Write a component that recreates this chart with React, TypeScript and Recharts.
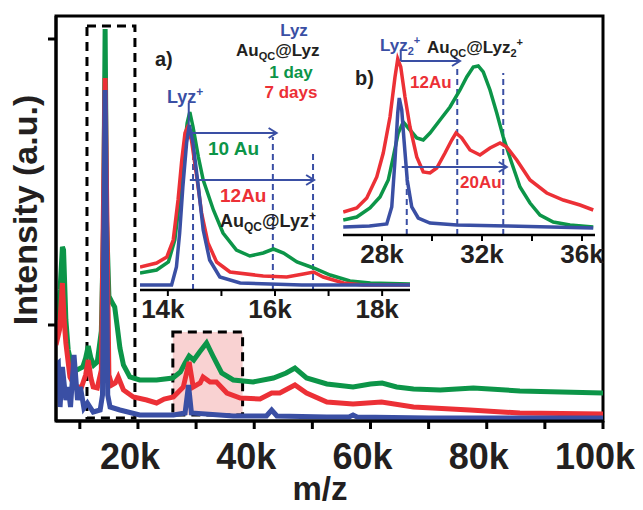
import React from "react";
import { LineChart, Line, XAxis, YAxis, ReferenceArea, ReferenceLine } from "recharts";

const GREEN = "#0c9548";
const RED = "#ec3036";
const BLUE = "#3a4fa4";
const INK = "#231f20";
const FONT = '"Liberation Sans", Arial, sans-serif';

// main spectrum: [m/z in k, intensity a.u.]
const mainTicks = [10, 20, 30, 40, 50, 60, 70, 80, 90, 100];
const mainGreen = [
  [5.9, 101], [6.6, 131], [7.0, 174], [7.2, 171], [7.6, 101], [8.0, 71], [8.6, 56], [9.5, 51],
  [10.5, 54], [11.0, 63], [11.45, 75], [11.9, 63], [12.4, 56], [13.0, 59], [13.7, 90], [14.1, 200],
  [14.35, 392], [14.6, 200], [15.0, 125], [15.6, 118], [16.0, 114], [16.4, 96], [16.9, 73],
  [17.5, 56], [18.6, 44], [20.3, 41], [23.2, 41], [26.0, 43], [27.3, 49], [28.1, 58], [28.8, 65],
  [29.6, 61], [30.6, 69], [31.8, 78], [32.9, 65], [34.4, 48], [36.4, 41], [39.8, 39], [43.3, 43],
  [45.5, 48], [47.0, 53], [49.0, 43], [52.5, 37], [57.0, 34], [60.0, 37], [62.0, 38], [64.5, 34],
  [67.4, 32], [72.0, 31], [77.7, 33], [85.7, 30], [100, 28],
];
const mainRed = [
  [5.9, 76], [6.5, 91], [7.0, 138], [7.3, 101], [7.6, 78], [8.3, 44], [9.2, 34], [10.3, 34],
  [11.0, 46], [11.45, 61], [11.9, 43], [12.3, 34], [13.0, 33], [13.7, 51], [14.35, 343], [15.0, 46],
  [15.5, 36], [16.1, 38], [16.6, 44], [17.5, 31], [19.2, 24], [21.5, 21], [23.2, 18], [24.5, 22],
  [26.1, 24], [27.8, 34], [28.8, 59], [29.5, 34], [30.7, 38], [31.2, 44], [32.4, 39], [33.5, 39],
  [35.3, 28], [37.6, 23], [41.0, 22], [43.0, 28], [44.4, 28], [47.0, 36], [49.0, 28], [52.5, 19],
  [57.0, 17], [61.9, 19], [67.4, 14], [77.1, 11], [85.7, 8], [100, 7],
];
const mainBlue = [
  [5.9, 56], [6.3, 58], [6.6, 14], [7.0, 54], [7.6, 21], [8.0, 34], [8.4, 14], [9.0, 66],
  [9.6, 21], [10.1, 34], [10.7, 13], [11.3, 18], [12.3, 9], [13.5, 11], [13.9, 26], [14.35, 331],
  [14.8, 26], [15.2, 14], [16.9, 11], [20.3, 6], [26.1, 6], [28.1, 8], [28.7, 36], [29.2, 8],
  [36.4, 5], [42.1, 5], [43.0, 11], [43.9, 5], [52.5, 4], [56.3, 4], [57.0, 6], [57.7, 4],
  [70, 3], [100, 3],
];

// inset a: Lyz+ region
const insetATicks = [14, 15, 16, 17, 18];
const insetABlue = [
  [13.48, 5], [14.07, 5], [14.16, 23], [14.22, 57], [14.28, 103], [14.35, 147], [14.4, 165],
  [14.47, 147], [14.57, 103], [14.66, 60], [14.78, 30], [14.97, 13], [15.35, 7], [16.5, 5], [18.52, 5],
];
const insetARed = [
  [13.48, 23], [13.79, 27], [13.98, 33], [14.1, 50], [14.19, 90], [14.26, 130], [14.32, 157],
  [14.36, 162], [14.44, 150], [14.54, 113], [14.63, 77], [14.75, 47], [14.91, 28], [15.16, 18],
  [15.78, 14], [16.22, 13], [16.53, 16], [16.72, 18], [16.9, 13], [17.28, 7], [17.65, 5], [18.52, 5],
];
const insetAGreen = [
  [13.48, 17], [13.79, 20], [14.01, 28], [14.13, 50], [14.22, 90], [14.3, 137], [14.36, 167],
  [14.41, 178], [14.47, 163], [14.57, 133], [14.66, 110], [14.85, 80], [15.03, 57], [15.28, 40],
  [15.53, 34], [15.78, 37], [15.97, 41], [16.16, 37], [16.41, 28], [16.72, 22], [17.03, 15],
  [17.4, 9], [17.78, 7], [18.52, 6],
];

// inset b: Lyz2+ region
const insetBTicks = [28, 30, 32, 34, 36];
const insetBBlue = [
  [26.45, 8], [27.5, 9], [28.19, 11], [28.39, 28], [28.52, 75], [28.63, 122], [28.69, 137],
  [28.79, 125], [28.88, 95], [29.01, 55], [29.19, 28], [29.45, 17], [29.92, 12], [31.0, 10],
  [33.0, 9], [36.45, 7],
];
const insetBRed = [
  [26.45, 23], [26.99, 27], [27.39, 37], [27.79, 58], [28.05, 82], [28.32, 118], [28.52, 158],
  [28.63, 176], [28.75, 168], [28.92, 138], [29.12, 108], [29.39, 78], [29.65, 63], [29.92, 62],
  [30.19, 67], [30.52, 82], [30.79, 95], [30.96, 102], [31.19, 97], [31.52, 85], [31.92, 80],
  [32.32, 87], [32.72, 92], [32.99, 88], [33.39, 75], [33.92, 55], [34.59, 42], [35.25, 35],
  [35.92, 30], [36.45, 25],
];
const insetBGreen = [
  [26.45, 15], [26.99, 18], [27.52, 27], [27.92, 38], [28.25, 55], [28.45, 78], [28.65, 102],
  [28.85, 113], [29.12, 105], [29.39, 97], [29.65, 95], [29.92, 102], [30.32, 115], [30.72, 128],
  [31.12, 145], [31.39, 158], [31.65, 168], [31.85, 169], [32.05, 163], [32.32, 145], [32.59, 122],
  [32.85, 98], [33.19, 72], [33.52, 48], [33.92, 32], [34.32, 20], [34.85, 13], [35.52, 10],
  [36.45, 8],
];

const rows = (pts: number[][]) => pts.map(([mz, y]) => ({ mz, y }));

// tick label maker: only every `step` gets a "k" label
const kTick = (step: number, size: number, dy: number, shift: number) => (p: any) => {
  const v = p.payload.value;
  if (Math.round(v) % step !== 0) return <g />;
  return (
    <text x={p.x + shift} y={p.y + dy} textAnchor="middle" fontSize={size}
      fontWeight="bold" fontFamily={FONT} fill={INK}>
      {v}k
    </text>
  );
};

function Arrow(p: any) {
  const { x1, y1, x2, y2 } = p;
  return (
    <g>
      <line x1={x1} y1={y1} x2={x2} y2={y2} stroke={BLUE} strokeWidth={2} />
      <polyline points={`${x2 - 8},${y2 - 5} ${x2},${y2} ${x2 - 8},${y2 + 5}`}
        fill="none" stroke={BLUE} strokeWidth={2} />
    </g>
  );
}

const series = (data: number[][], color: string, w: number) => (
  <Line data={rows(data)} dataKey="y" type="linear" stroke={color} strokeWidth={w}
    dot={false} activeDot={false} isAnimationActive={false} />
);

const dash = (x: number, top: number) => (
  <ReferenceLine segment={[{ x, y: 0 }, { x, y: top }]} stroke={BLUE} strokeWidth={2}
    strokeDasharray="6 4" />
);

const arrow = (x1: number, x2: number, y: number) => (
  <ReferenceLine segment={[{ x: x1, y }, { x: x2, y }]} shape={Arrow} />
);

function T({ x, y, c = INK, s = 18, a = "start", children }: any) {
  return (
    <text x={x} y={y} fill={c} fontSize={s} fontWeight="bold" textAnchor={a} fontFamily={FONT}>
      {children}
    </text>
  );
}

export default function App() {
  return (
    <div style={{ position: "absolute", left: 0, top: 0, width: 643, height: 510, background: "#fff" }}>
      <div style={{ position: "absolute", left: 0, top: 0 }}>
        <LineChart width={643} height={510} margin={{ top: 16, right: 40, bottom: 29, left: 46 }}>
          <XAxis type="number" dataKey="mz" domain={[5.9, 100]} ticks={mainTicks} interval={0}
            allowDataOverflow height={60} tickSize={8}
            axisLine={{ stroke: "#000", strokeWidth: 3 }} tickLine={{ stroke: "#000", strokeWidth: 3 }}
            tick={kTick(20, 36, 38, -8)} />
          <YAxis type="number" domain={[0, 405]} ticks={[96, 382]} width={10} tickSize={8}
            tickFormatter={() => ""} axisLine={{ stroke: "#000", strokeWidth: 3 }}
            tickLine={{ stroke: "#000", strokeWidth: 3 }} />
          <ReferenceArea x1={26} x2={38} y1={6} y2={89} fill="#f9d2d2" fillOpacity={1}
            stroke="#000" strokeWidth={3} strokeDasharray="9 6" />
          <ReferenceArea x1={11.23} x2={19.48} y1={3} y2={395} fill="none"
            stroke="#000" strokeWidth={3} strokeDasharray="9 6" />
          {series(mainGreen, GREEN, 5)}
          {series(mainRed, RED, 5)}
          {series(mainBlue, BLUE, 5)}
          <ReferenceArea x1={5.9} x2={100} y1={0} y2={405} fill="none" stroke="#000" strokeWidth={3} />
        </LineChart>
      </div>

      <div style={{ position: "absolute", left: 130, top: 80 }}>
        <LineChart width={290} height={262} margin={{ top: 10, right: 10, bottom: 17, left: 10 }}>
          <XAxis type="number" dataKey="mz" domain={[13.48, 18.52]} ticks={insetATicks} interval={0}
            allowDataOverflow height={35} tickSize={6}
            axisLine={{ stroke: "#000", strokeWidth: 2.5 }} tickLine={{ stroke: "#000", strokeWidth: 2 }}
            tick={kTick(2, 26, 20, -5)} />
          <YAxis hide type="number" domain={[0, 200]} />
          {dash(14.47, 157)}
          {dash(15.96, 153)}
          {dash(16.71, 140)}
          {series(insetAGreen, GREEN, 3.5)}
          {series(insetARed, RED, 3.5)}
          {series(insetABlue, BLUE, 3.5)}
          <ReferenceLine segment={[{ x: 14.39, y: 165 }, { x: 14.39, y: 187 }]} stroke={BLUE} strokeWidth={2} />
          {arrow(14.43, 16.03, 157)}
          {arrow(14.41, 16.73, 110)}
        </LineChart>
      </div>

      <div style={{ position: "absolute", left: 333, top: 35 }}>
        <LineChart width={272} height={250} margin={{ top: 10, right: 10, bottom: 18, left: 10 }}>
          <XAxis type="number" dataKey="mz" domain={[26.44, 36.52]} ticks={insetBTicks} interval={0}
            allowDataOverflow height={32} tickSize={6}
            axisLine={{ stroke: "#000", strokeWidth: 2.5 }} tickLine={{ stroke: "#000", strokeWidth: 2 }}
            tick={kTick(4, 26, 20, 0)} />
          <YAxis hide type="number" domain={[0, 190]} />
          {dash(28.99, 68)}
          {dash(31.01, 170)}
          {dash(32.85, 162)}
          {series(insetBGreen, GREEN, 3.5)}
          {series(insetBRed, RED, 3.5)}
          {series(insetBBlue, BLUE, 3.5)}
          <ReferenceLine segment={[{ x: 28.75, y: 174 }, { x: 28.75, y: 185 }]} stroke={BLUE} strokeWidth={2} />
          {arrow(28.75, 31.12, 174)}
          {arrow(28.79, 32.99, 68)}
        </LineChart>
      </div>

      <svg width={643} height={510} style={{ position: "absolute", left: 0, top: 0, pointerEvents: "none" }}>
        <text x={37} y={210} transform="rotate(-90 37 210)" textAnchor="middle" fontSize={34}
          fontWeight="bold" fontFamily={FONT} fill={INK}>Intensity (a.u.)</text>
        <T x={320} y={500} s={33} a="middle">m/z</T>

        <T x={155} y={66} s={20}>a)</T>
        <T x={294} y={36} c={BLUE} s={17} a="middle">Lyz</T>
        <T x={236} y={56} s={17}>Au<tspan fontSize={11} dy={4}>QC</tspan><tspan dy={-4}>@Lyz</tspan></T>
        <T x={291} y={78} c={GREEN} s={17} a="middle">1 day</T>
        <T x={291} y={98} c={RED} s={17} a="middle">7 days</T>
        <T x={167} y={103} c={BLUE}>Lyz<tspan fontSize={12} dy={-7}>+</tspan></T>
        <T x={208} y={155} c={GREEN} s={19}>10 Au</T>
        <T x={220} y={202} c={RED} s={19}>12Au</T>
        <T x={220} y={227}>Au<tspan fontSize={12} dy={4}>QC</tspan><tspan dy={-4}>@Lyz</tspan><tspan fontSize={12} dy={-7}>+</tspan></T>

        <T x={355} y={85} s={20}>b)</T>
        <T x={380} y={51} c={BLUE} s={17}>Lyz<tspan fontSize={11} dy={4}>2</tspan><tspan fontSize={11} dy={-11}>+</tspan></T>
        <T x={427} y={53} s={17}>Au<tspan fontSize={11} dy={4}>QC</tspan><tspan dy={-4}>@Lyz</tspan><tspan fontSize={11} dy={4}>2</tspan><tspan fontSize={11} dy={-11}>+</tspan></T>
        <T x={410} y={88} c={RED} s={17}>12Au</T>
        <T x={460} y={188} c={RED} s={17}>20Au</T>
      </svg>
    </div>
  );
}
